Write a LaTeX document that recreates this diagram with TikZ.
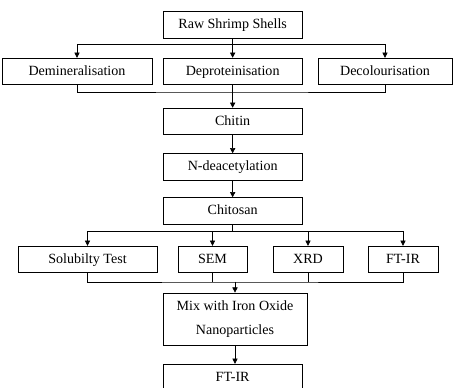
\documentclass[tikz,border=0pt]{standalone}
\usepackage{fontspec}
\setmainfont{Liberation Serif}
\usetikzlibrary{arrows.meta}

\tikzset{
    box/.style={draw, line width=0.6pt, minimum height=0.8cm, inner sep=2pt, font=\fontsize{12}{21}\selectfont},
    onebox/.style={box, text height=8.5pt, text depth=2.5pt},
    arr/.style={line width=0.6pt, -{Triangle[width=4.5pt,length=4.5pt]}},
    ln/.style={line width=0.6pt}
}

\begin{document}
\begin{tikzpicture}
    \useasboundingbox (0,0) rectangle (13.59,11.64);

    \node[onebox, minimum width=4.17cm] (raw) at (6.98,10.89) {Raw Shrimp Shells};
    \node[onebox, minimum width=4.5cm] (demin) at (2.31,9.495) {Demineralisation};
    \node[onebox, minimum width=4.17cm] (deprot) at (6.98,9.495) {Deproteinisation};
    \node[onebox, minimum width=4.02cm] (decol) at (11.55,9.495) {Decolourisation};
    \node[onebox, minimum width=4.17cm] (chitin) at (6.98,7.995) {Chitin};
    \node[onebox, minimum width=4.17cm] (deac) at (6.98,6.63) {N-deacetylation};
    \node[onebox, minimum width=4.17cm] (chitosan) at (6.98,5.31) {Chitosan};

    \node[onebox, minimum width=4.17cm] (sol) at (2.625,3.855) {Solubilty Test};
    \node[onebox, minimum width=2.07cm] (sem) at (6.375,3.855) {SEM};
    \node[onebox, minimum width=2.1cm] (xrd) at (9.24,3.855) {XRD};
    \node[onebox, minimum width=2.1cm] (ftir) at (12.09,3.855) {FT-IR};

    \node[box, minimum width=4.32cm, minimum height=1.56cm, align=center] (mix) at (7.05,2.07) {Mix with Iron Oxide\\Nanoparticles};
    \node[onebox, minimum width=4.17cm] (ftirb) at (6.98,0.315) {FT-IR};

    \coordinate (m1) at (6.98,8.88);
    \coordinate (m2) at (7.05,3.18);

    % first branch
    \draw[arr] (raw.south) -- ++(0,-0.18) -| (demin.north);
    \draw[arr] (raw.south) -- (deprot.north);
    \draw[arr] (raw.south) -- ++(0,-0.18) -| (decol.north);

    % merge to chitin
    \draw[ln] (demin.south) |- (m1) -| (decol.south);
    \draw[arr] (deprot.south) -- (chitin.north);
    \draw[arr] (chitin.south) -- (deac.north);
    \draw[arr] (deac.south) -- (chitosan.north);

    % tests
    \draw[arr] (chitosan.south) -- ++(0,-0.21) -| (sol.north);
    \draw[arr] (chitosan.south) -- ++(0,-0.21) -| (sem.north);
    \draw[arr] (chitosan.south) -- ++(0,-0.21) -| (xrd.north);
    \draw[arr] (chitosan.south) -- ++(0,-0.21) -| (ftir.north);

    \draw[ln] (sol.south) |- (m2) -| (ftir.south);
    \draw[ln] (sem.south) -- (sem.south |- m2);
    \draw[ln] (xrd.south) -- (xrd.south |- m2);
    \draw[arr] (m2) -- (mix.north);
    \draw[arr] (mix.south) -- (mix.south |- ftirb.north);

\end{tikzpicture}
\end{document}
